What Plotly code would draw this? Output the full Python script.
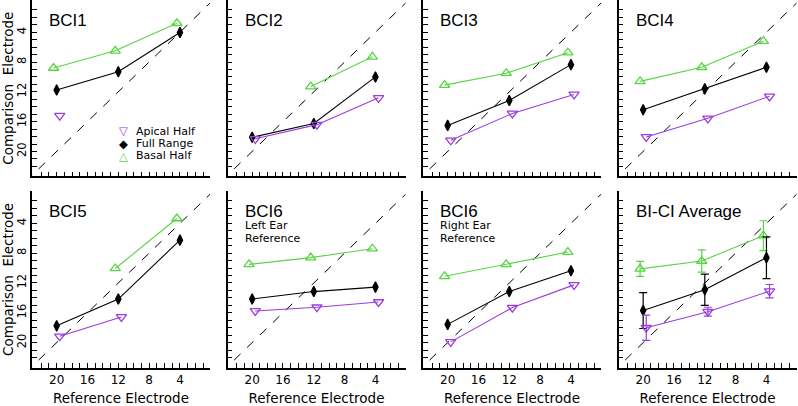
import plotly.graph_objects as go

# ---------------- data ----------------
panel_names = ["BCI1", "BCI2", "BCI3", "BCI4", "BCI5", "BCI6", "BCI6", "BI-CI Average"]
panel_notes = [[], [], [], [], [], ["Left Ear", "Reference"], ["Right Ear", "Reference"], []]

ref_full = [20, 12, 4]
ref_apical = [19.6, 11.6, 3.6]
ref_basal = [20.4, 12.4, 4.4]

apical = [
    [15.2, None, None],
    [18.3, 16.4, 12.8],
    [18.5, 14.9, 12.35],
    [18.05, 15.55, 12.6],
    [19.15, 16.55, None],
    [15.75, 15.25, 14.55],
    [19.9, 15.3, 12.25],
    [18.0, 15.85, 13.1],
]
full = [
    [11.75, 9.3, 4.05],
    [18.1, 16.25, 10.0],
    [16.5, 13.15, 8.35],
    [14.4, 11.6, 8.7],
    [17.75, 14.15, 6.25],
    [14.15, 13.15, 12.55],
    [17.55, 13.15, 10.35],
    [15.7, 12.9, 8.6],
]
basal = [
    [8.8, 6.5, 2.8],
    [None, 11.3, 7.3],
    [11.1, 9.5, 6.75],
    [10.6, 8.7, 5.2],
    [None, 10.05, 3.35],
    [9.5, 8.6, 7.4],
    [11.1, 9.5, 7.85],
    [10.1, 9.05, 5.65],
]
# error bars (BI-CI Average panel only)
apical_err = [1.7, 0.6, 0.9]
full_err = [2.4, 2.1, 2.8]
basal_err = [1.0, 1.5, 2.0]

tick_values = list(range(1, 23))
tick_labels = ["4", "8", "12", "16", "20"]
identity = [-2, 26]

legend_names = ["Apical Half", "Full Range", "Basal Half"]
legend_symbols = ["\u25BD", "\u25C6", "\u25B3"]

# ---------------- style ----------------
PURPLE = "#9a3ce0"
GREEN = "#58d444"
BLACK = "#000000"
W, H = 798, 406
col_left = [32, 227.5, 423, 618.5]
row_top = [0, 195]
PW, PH = 178, 180
XR = [23.2, 0.1]
YR = [23.35, -0.32]
font2 = "DejaVu Sans"

fig = go.Figure()

def tt(vals):
    return [str(v) if str(v) in tick_labels else "" for v in vals]

for i in range(8):
    r, c = divmod(i, 4)
    ax = "" if i == 0 else str(i + 1)
    xa, ya = "x" + ax, "y" + ax
    # identity line
    fig.add_trace(go.Scatter(x=identity, y=identity, mode="lines", xaxis=xa, yaxis=ya,
                             line=dict(color=BLACK, width=1, dash="dash"), showlegend=False,
                             hoverinfo="skip"))
    is_avg = (i == 7)
    series = [
        (ref_basal, basal[i], GREEN, "triangle-up-open", 9, basal_err),
        (ref_full, full[i], BLACK, "diamond-tall", 7.5, full_err),
        (ref_apical, apical[i], PURPLE, "triangle-down-open", 9, apical_err),
    ]
    for xs, ys, col, sym, sz, err in series:
        kw = {}
        if is_avg:
            kw["error_y"] = dict(type="data", array=err, visible=True, color=col,
                                 thickness=1.2, width=4)
        fig.add_trace(go.Scatter(x=xs, y=ys, mode="lines+markers", xaxis=xa, yaxis=ya,
                                 line=dict(color=col, width=1.1),
                                 marker=dict(symbol=sym, size=sz, color=col,
                                             line=dict(color=col, width=1.3)),
                                 showlegend=False, **kw))
    x0 = col_left[c] / W
    x1 = (col_left[c] + PW) / W
    y1 = 1 - row_top[r] / H
    y0 = 1 - (row_top[r] + PH) / H
    xaxis = dict(domain=[x0, x1], range=XR, anchor=ya, tickvals=tick_values,
                 ticktext=tt(tick_values) if r == 1 else [""] * len(tick_values),
                 ticks="inside", ticklen=5, tickwidth=1, tickcolor=BLACK,
                 showline=True, linecolor=BLACK, linewidth=1.5, showgrid=False,
                 zeroline=False, tickfont=dict(family=font2, size=12, color=BLACK))
    yaxis = dict(domain=[y0, y1], range=YR, anchor=xa, tickvals=tick_values,
                 ticktext=tt(tick_values) if c == 0 else [""] * len(tick_values),
                 ticks="inside", ticklen=5, tickwidth=1, tickcolor=BLACK, tickangle=-90,
                 showline=True, linecolor=BLACK, linewidth=1.5, showgrid=False,
                 zeroline=False, tickfont=dict(family=font2, size=11.5, color=BLACK))
    if r == 1:
        xaxis["title"] = dict(text="Reference Electrode",
                              font=dict(family=font2, size=13.5, color=BLACK), standoff=10)
    if c == 0:
        yaxis["title"] = dict(text="Comparison  Electrode",
                              font=dict(family=font2, size=13.5, color=BLACK), standoff=4)
    fig.layout["xaxis" + ax] = xaxis
    fig.layout["yaxis" + ax] = yaxis

    fig.add_annotation(text=panel_names[i], xref=xa + " domain", yref=ya + " domain",
                       x=15 / PW, y=1 - 20.5 / PH, xanchor="left", yanchor="middle",
                       showarrow=False, font=dict(family="Liberation Sans", size=17, color=BLACK))
    for k, line in enumerate(panel_notes[i]):
        fig.add_annotation(text=line, xref=xa + " domain", yref=ya + " domain",
                           x=15 / PW, y=1 - (35.5 + 12.7 * k) / PH, xanchor="left",
                           yanchor="middle", showarrow=False,
                           font=dict(family=font2, size=11, color=BLACK))

# legend in first panel
leg_cols = [PURPLE, BLACK, GREEN]
for k in range(3):
    yy = 1 - (134 + 12.5 * k) / PH
    fig.add_annotation(text=legend_symbols[k], xref="x domain", yref="y domain",
                       x=91 / PW, y=yy, xanchor="center", yanchor="middle", showarrow=False,
                       font=dict(family="DejaVu Sans", size=11.5, color=leg_cols[k]))
    fig.add_annotation(text=legend_names[k], xref="x domain", yref="y domain",
                       x=102 / PW, y=yy, xanchor="left", yanchor="middle", showarrow=False,
                       font=dict(family=font2, size=11, color=BLACK))

fig.update_layout(width=W, height=H, margin=dict(l=0, r=0, t=0, b=0),
                  paper_bgcolor="white", plot_bgcolor="white", showlegend=False)

fig.write_html("out.html", config={"displayModeBar": False},
               post_script="document.body.style.margin='0';document.body.style.overflow='hidden';")
